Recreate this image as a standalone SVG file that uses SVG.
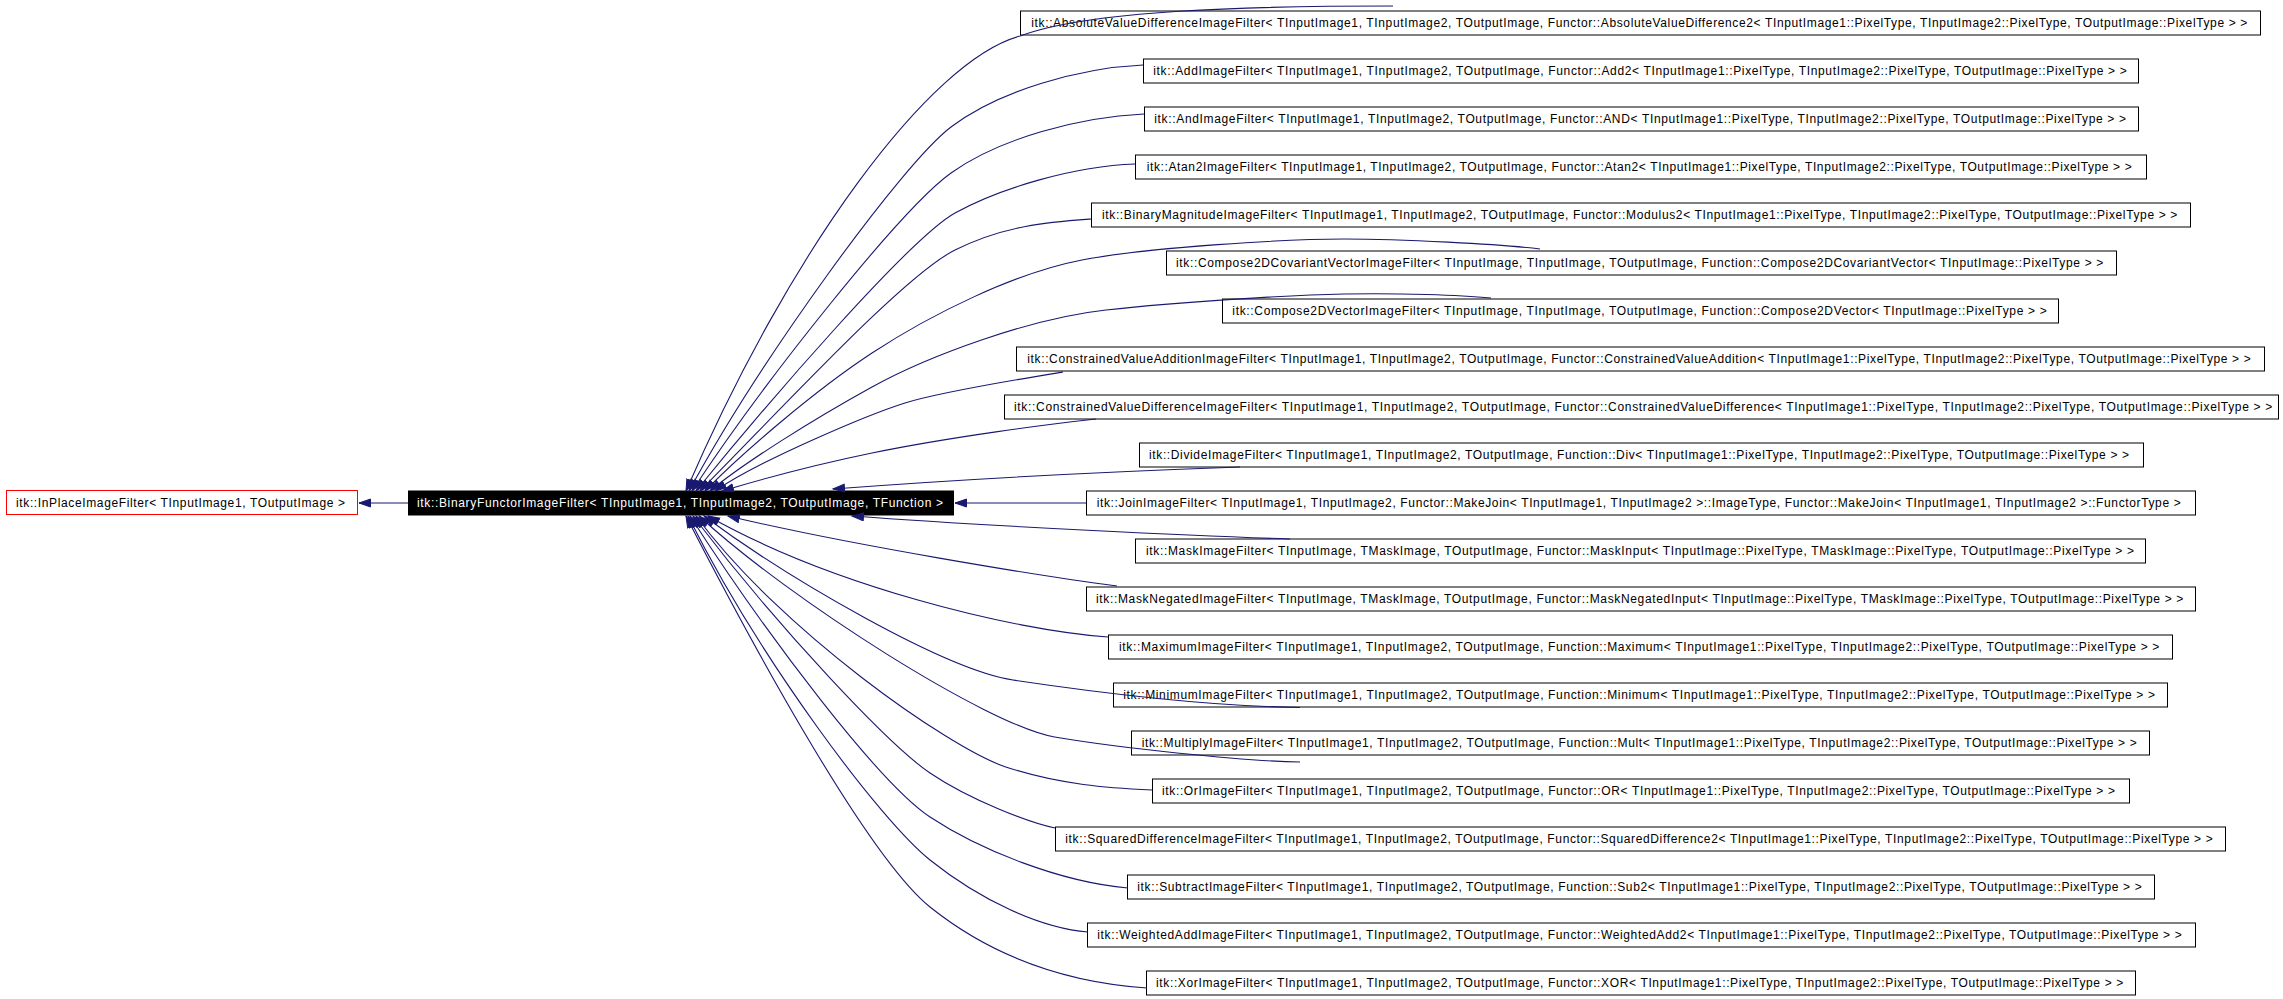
<svg xmlns="http://www.w3.org/2000/svg" width="2283" height="999" viewBox="0 0 2283 999">
<style>
.n rect{fill:#fff;stroke:#000;stroke-width:1}
text{font-family:"Liberation Sans",Arial,Helvetica,sans-serif;font-size:12px;fill:#000}
.e path{fill:none;stroke:#191970;stroke-width:1.1;marker-end:url(#ah)}
</style>
<defs>
<marker id="ah" markerUnits="userSpaceOnUse" viewBox="0 0 14 10" markerWidth="14" markerHeight="10" refX="12" refY="4.5" orient="auto">
<path d="M0.5,0.5 L12,4.5 L0.5,8.5 z" fill="#191970" stroke="#191970" stroke-width="1"/>
</marker>
</defs>
<rect x="0" y="0" width="2283" height="999" fill="#fff"/>

<g id="inplace" class="n"><rect x="6.5" y="490.5" width="351" height="24" style="stroke:#ff0000"/><text x="16" y="507" textLength="329" lengthAdjust="spacing">itk::InPlaceImageFilter&lt; TInputImage1, TOutputImage &gt;</text></g>
<g id="binaryfunctor"><rect x="408.5" y="491" width="545" height="24" fill="#000" stroke="#000"/><text x="417" y="507" textLength="526" lengthAdjust="spacing" style="fill:#fff">itk::BinaryFunctorImageFilter&lt; TInputImage1, TInputImage2, TOutputImage, TFunction &gt;</text></g>

<g id="n1" class="n"><rect x="1020.5" y="11" width="1240" height="24"/><text x="1031.3" y="27" textLength="1216" lengthAdjust="spacing">itk::AbsoluteValueDifferenceImageFilter&lt; TInputImage1, TInputImage2, TOutputImage, Functor::AbsoluteValueDifference2&lt; TInputImage1::PixelType, TInputImage2::PixelType, TOutputImage::PixelType &gt; &gt;</text></g>
<g id="n2" class="n"><rect x="1143.5" y="59" width="995" height="24"/><text x="1153.3" y="75" textLength="973.4" lengthAdjust="spacing">itk::AddImageFilter&lt; TInputImage1, TInputImage2, TOutputImage, Functor::Add2&lt; TInputImage1::PixelType, TInputImage2::PixelType, TOutputImage::PixelType &gt; &gt;</text></g>
<g id="n3" class="n"><rect x="1144.5" y="107" width="994" height="24"/><text x="1154.3" y="123" textLength="971.7" lengthAdjust="spacing">itk::AndImageFilter&lt; TInputImage1, TInputImage2, TOutputImage, Functor::AND&lt; TInputImage1::PixelType, TInputImage2::PixelType, TOutputImage::PixelType &gt; &gt;</text></g>
<g id="n4" class="n"><rect x="1135.5" y="155" width="1011" height="24"/><text x="1146.7" y="171" textLength="985" lengthAdjust="spacing">itk::Atan2ImageFilter&lt; TInputImage1, TInputImage2, TOutputImage, Functor::Atan2&lt; TInputImage1::PixelType, TInputImage2::PixelType, TOutputImage::PixelType &gt; &gt;</text></g>
<g id="n5" class="n"><rect x="1091.5" y="203" width="1099" height="24"/><text x="1102" y="219" textLength="1075.3" lengthAdjust="spacing">itk::BinaryMagnitudeImageFilter&lt; TInputImage1, TInputImage2, TOutputImage, Functor::Modulus2&lt; TInputImage1::PixelType, TInputImage2::PixelType, TOutputImage::PixelType &gt; &gt;</text></g>
<g id="n6" class="n"><rect x="1166.5" y="251" width="950" height="24"/><text x="1176" y="267" textLength="927.3" lengthAdjust="spacing">itk::Compose2DCovariantVectorImageFilter&lt; TInputImage, TInputImage, TOutputImage, Function::Compose2DCovariantVector&lt; TInputImage::PixelType &gt; &gt;</text></g>
<g id="n7" class="n"><rect x="1222.5" y="299" width="836" height="24"/><text x="1232.3" y="315" textLength="814.4" lengthAdjust="spacing">itk::Compose2DVectorImageFilter&lt; TInputImage, TInputImage, TOutputImage, Function::Compose2DVector&lt; TInputImage::PixelType &gt; &gt;</text></g>
<g id="n8" class="n"><rect x="1016.5" y="347" width="1248" height="24"/><text x="1027.3" y="363" textLength="1223.4" lengthAdjust="spacing">itk::ConstrainedValueAdditionImageFilter&lt; TInputImage1, TInputImage2, TOutputImage, Functor::ConstrainedValueAddition&lt; TInputImage1::PixelType, TInputImage2::PixelType, TOutputImage::PixelType &gt; &gt;</text></g>
<g id="n9" class="n"><rect x="1004.5" y="395" width="1274" height="24"/><text x="1014" y="411" textLength="1258.3" lengthAdjust="spacing">itk::ConstrainedValueDifferenceImageFilter&lt; TInputImage1, TInputImage2, TOutputImage, Functor::ConstrainedValueDifference&lt; TInputImage1::PixelType, TInputImage2::PixelType, TOutputImage::PixelType &gt; &gt;</text></g>
<g id="n10" class="n"><rect x="1139.5" y="443" width="1004" height="24"/><text x="1149" y="459" textLength="980" lengthAdjust="spacing">itk::DivideImageFilter&lt; TInputImage1, TInputImage2, TOutputImage, Function::Div&lt; TInputImage1::PixelType, TInputImage2::PixelType, TOutputImage::PixelType &gt; &gt;</text></g>
<g id="n11" class="n"><rect x="1086.5" y="491" width="1109" height="24"/><text x="1096.7" y="507" textLength="1084" lengthAdjust="spacing">itk::JoinImageFilter&lt; TInputImage1, TInputImage2, Functor::MakeJoin&lt; TInputImage1, TInputImage2 &gt;::ImageType, Functor::MakeJoin&lt; TInputImage1, TInputImage2 &gt;::FunctorType &gt;</text></g>
<g id="n12" class="n"><rect x="1135.5" y="539" width="1010" height="24"/><text x="1146" y="555" textLength="988" lengthAdjust="spacing">itk::MaskImageFilter&lt; TInputImage, TMaskImage, TOutputImage, Functor::MaskInput&lt; TInputImage::PixelType, TMaskImage::PixelType, TOutputImage::PixelType &gt; &gt;</text></g>
<g id="n13" class="n"><rect x="1086.5" y="587" width="1109" height="24"/><text x="1096" y="603" textLength="1087.3" lengthAdjust="spacing">itk::MaskNegatedImageFilter&lt; TInputImage, TMaskImage, TOutputImage, Functor::MaskNegatedInput&lt; TInputImage::PixelType, TMaskImage::PixelType, TOutputImage::PixelType &gt; &gt;</text></g>
<g id="n14" class="n"><rect x="1108.5" y="635" width="1064" height="24"/><text x="1119" y="651" textLength="1040.3" lengthAdjust="spacing">itk::MaximumImageFilter&lt; TInputImage1, TInputImage2, TOutputImage, Function::Maximum&lt; TInputImage1::PixelType, TInputImage2::PixelType, TOutputImage::PixelType &gt; &gt;</text></g>
<g id="n15" class="n"><rect x="1113.5" y="683" width="1054" height="24"/><text x="1123.3" y="699" textLength="1031.7" lengthAdjust="spacing">itk::MinimumImageFilter&lt; TInputImage1, TInputImage2, TOutputImage, Function::Minimum&lt; TInputImage1::PixelType, TInputImage2::PixelType, TOutputImage::PixelType &gt; &gt;</text></g>
<g id="n16" class="n"><rect x="1131.5" y="731" width="1018" height="24"/><text x="1141.7" y="747" textLength="995" lengthAdjust="spacing">itk::MultiplyImageFilter&lt; TInputImage1, TInputImage2, TOutputImage, Function::Mult&lt; TInputImage1::PixelType, TInputImage2::PixelType, TOutputImage::PixelType &gt; &gt;</text></g>
<g id="n17" class="n"><rect x="1152.5" y="779" width="977" height="24"/><text x="1162" y="795" textLength="953" lengthAdjust="spacing">itk::OrImageFilter&lt; TInputImage1, TInputImage2, TOutputImage, Functor::OR&lt; TInputImage1::PixelType, TInputImage2::PixelType, TOutputImage::PixelType &gt; &gt;</text></g>
<g id="n18" class="n"><rect x="1055.5" y="827" width="1170" height="24"/><text x="1065.3" y="843" textLength="1147.4" lengthAdjust="spacing">itk::SquaredDifferenceImageFilter&lt; TInputImage1, TInputImage2, TOutputImage, Functor::SquaredDifference2&lt; TInputImage1::PixelType, TInputImage2::PixelType, TOutputImage::PixelType &gt; &gt;</text></g>
<g id="n19" class="n"><rect x="1127.5" y="875" width="1027" height="24"/><text x="1137.3" y="891" textLength="1004.4" lengthAdjust="spacing">itk::SubtractImageFilter&lt; TInputImage1, TInputImage2, TOutputImage, Function::Sub2&lt; TInputImage1::PixelType, TInputImage2::PixelType, TOutputImage::PixelType &gt; &gt;</text></g>
<g id="n20" class="n"><rect x="1087.5" y="923" width="1108" height="24"/><text x="1097.3" y="939" textLength="1084.4" lengthAdjust="spacing">itk::WeightedAddImageFilter&lt; TInputImage1, TInputImage2, TOutputImage, Functor::WeightedAdd2&lt; TInputImage1::PixelType, TInputImage2::PixelType, TOutputImage::PixelType &gt; &gt;</text></g>
<g id="n21" class="n"><rect x="1146.5" y="971" width="989" height="24"/><text x="1156" y="987" textLength="967.3" lengthAdjust="spacing">itk::XorImageFilter&lt; TInputImage1, TInputImage2, TOutputImage, Functor::XOR&lt; TInputImage1::PixelType, TInputImage2::PixelType, TOutputImage::PixelType &gt; &gt;</text></g>

<g id="connectors" class="e">
<path d="M408,503 L359,503"/>
<path d="M1086,503 L955,503"/>
<path d="M1393,6 C1250,6 1090,10 1020,36 C930,60 790,250 686,491"/>
<path d="M1143,65 C1080,68 1000,90 951,127 S760,360 689,491"/>
<path d="M1144,114 C1080,117 1000,138 951,173 S765,380 692,491"/>
<path d="M1135,164 C1075,166 1000,188 955,213 S770,400 696,491"/>
<path d="M1091,219 C1050,222 1005,225 955,250 S790,400 700,491"/>
<path d="M1540,249 C1500,244 1400,239 1344,239 S1150,247 1082,260 S930,315 872,353 S740,455 705,491"/>
<path d="M1491,298 C1460,295 1400,293 1344,294 S1180,302 1106,310 S930,355 872,387 S745,462 710,491"/>
<path d="M1063,372 C1020,379 940,392 905,403 S760,460 715,491"/>
<path d="M1096,419 C1050,424 950,437 872,453 S750,483 722,491"/>
<path d="M1240,467 C1100,472 950,480 833,489"/>
<path d="M1290,539 C1200,536 1000,527 852,516"/>
<path d="M1117,586 C1040,576 850,545 728,516"/>
<path d="M1108,637 C1010,630 830,585 708,516"/>
<path d="M1300,707.5 C1200,706 1080,690 1013,680 S790,580 704,516"/>
<path d="M1300,762 C1240,761 1120,748 1054.6,737 S790,600 699,516"/>
<path d="M1152,790 C1110,788 1060,785 1005,766.7 S780,630 696,516"/>
<path d="M1055,828 C1030,823 970,800 930,773 S780,630 693,516"/>
<path d="M1128,888 C1060,882 980,850 930,817 S770,640 690,516"/>
<path d="M1088,932 C1040,928 980,900 930,860 S760,660 688,516"/>
<path d="M1147,988 C1060,982 990,955 930,907 S760,660 686,516"/>
</g>
</svg>
